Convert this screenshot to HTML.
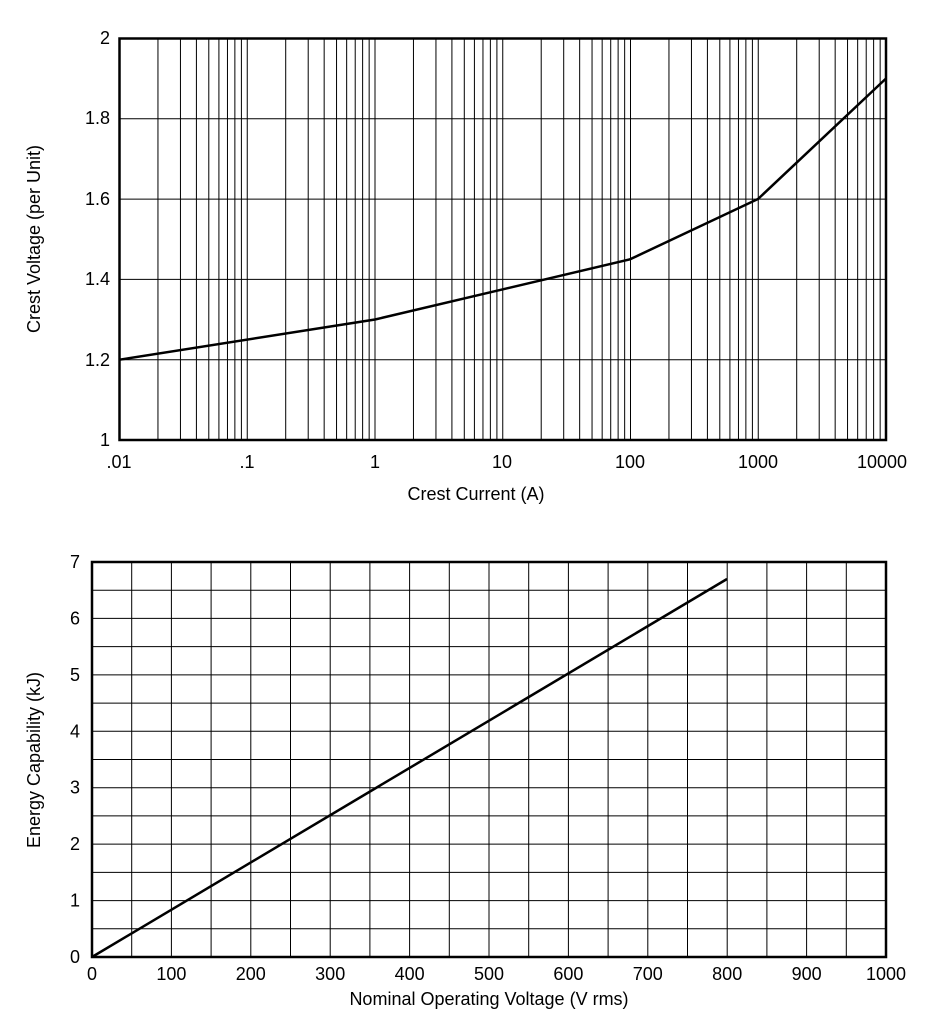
<!DOCTYPE html>
<html><head><meta charset="utf-8"><style>
body{margin:0;background:#fff}
svg{display:block}
text{font-family:"Liberation Sans",Arial,sans-serif;fill:#000}
</style></head><body>
<svg id="s" width="946" height="1030" xmlns="http://www.w3.org/2000/svg">
<g id="g" stroke="#000" fill="none"></g>
<text x="110" y="44" font-size="18" text-anchor="end">2</text>
<text x="110" y="124" font-size="18" text-anchor="end">1.8</text>
<text x="110" y="205" font-size="18" text-anchor="end">1.6</text>
<text x="110" y="285" font-size="18" text-anchor="end">1.4</text>
<text x="110" y="366" font-size="18" text-anchor="end">1.2</text>
<text x="110" y="446" font-size="18" text-anchor="end">1</text>
<text x="119" y="468" font-size="18" text-anchor="middle">.01</text>
<text x="247" y="468" font-size="18" text-anchor="middle">.1</text>
<text x="375" y="468" font-size="18" text-anchor="middle">1</text>
<text x="502" y="468" font-size="18" text-anchor="middle">10</text>
<text x="630" y="468" font-size="18" text-anchor="middle">100</text>
<text x="758" y="468" font-size="18" text-anchor="middle">1000</text>
<text x="882" y="468" font-size="18" text-anchor="middle">10000</text>
<text x="476" y="500" font-size="18" text-anchor="middle">Crest Current (A)</text>
<text transform="translate(40,239) rotate(-90)" font-size="18" text-anchor="middle">Crest Voltage (per Unit)</text>
<text transform="translate(40,760) rotate(-90)" font-size="18" text-anchor="middle">Energy Capability (kJ)</text>
<text x="489" y="1005" font-size="18" text-anchor="middle">Nominal Operating Voltage (V rms)</text>
<g id="t2" font-size="18"></g>
</svg>
<script>
var g=document.getElementById('g'),t2=document.getElementById('t2');
function L(x1,y1,x2,y2,w){var l=document.createElementNS('http://www.w3.org/2000/svg','line');l.setAttribute('x1',x1);l.setAttribute('y1',y1);l.setAttribute('x2',x2);l.setAttribute('y2',y2);l.setAttribute('stroke-width',w||1);g.appendChild(l);}
function T(x,y,s,a){var t=document.createElementNS('http://www.w3.org/2000/svg','text');t.setAttribute('x',x);t.setAttribute('y',y);t.setAttribute('text-anchor',a);t.textContent=s;t2.appendChild(t);}
var x0=119.5,x1=886,y0=38.5,y1=440,dec=(x1-x0)/6;
for(var d=0;d<6;d++)for(var k=1;k<=9;k++){var x=x0+dec*(d+Math.log10(k));L(x,y0,x,y1,1);}
for(var i=1;i<5;i++){var y=y1-(y1-y0)*i/5;L(x0,y,x1,y,1);}
g.insertAdjacentHTML('beforeend','<rect x="119.5" y="38.5" width="766.5" height="401.5" stroke-width="2.5"/>');
g.insertAdjacentHTML('beforeend','<polyline points="119.5,359.7 375,319.5 630,259.3 758,199 886,78.5" stroke-width="2.5"/>');
var bx0=92,bx1=886,by0=562,by1=957;
for(var i=1;i<20;i++){var x=bx0+(bx1-bx0)*i/20;L(x,by0,x,by1,1);}
for(var i=1;i<14;i++){var y=by1-(by1-by0)*i/14;L(bx0,y,bx1,y,1);}
g.insertAdjacentHTML('beforeend','<rect x="92" y="562" width="794" height="395" stroke-width="2.5"/>');
g.insertAdjacentHTML('beforeend','<line x1="92" y1="957" x2="727" y2="579" stroke-width="2.5"/>');
for(var i=0;i<=7;i++)T(80,by1-(by1-by0)*i/7+6,''+i,'end');
for(var i=0;i<=10;i++)T(bx0+(bx1-bx0)*i/10,980,''+i*100,'middle');
</script>
</body></html>
